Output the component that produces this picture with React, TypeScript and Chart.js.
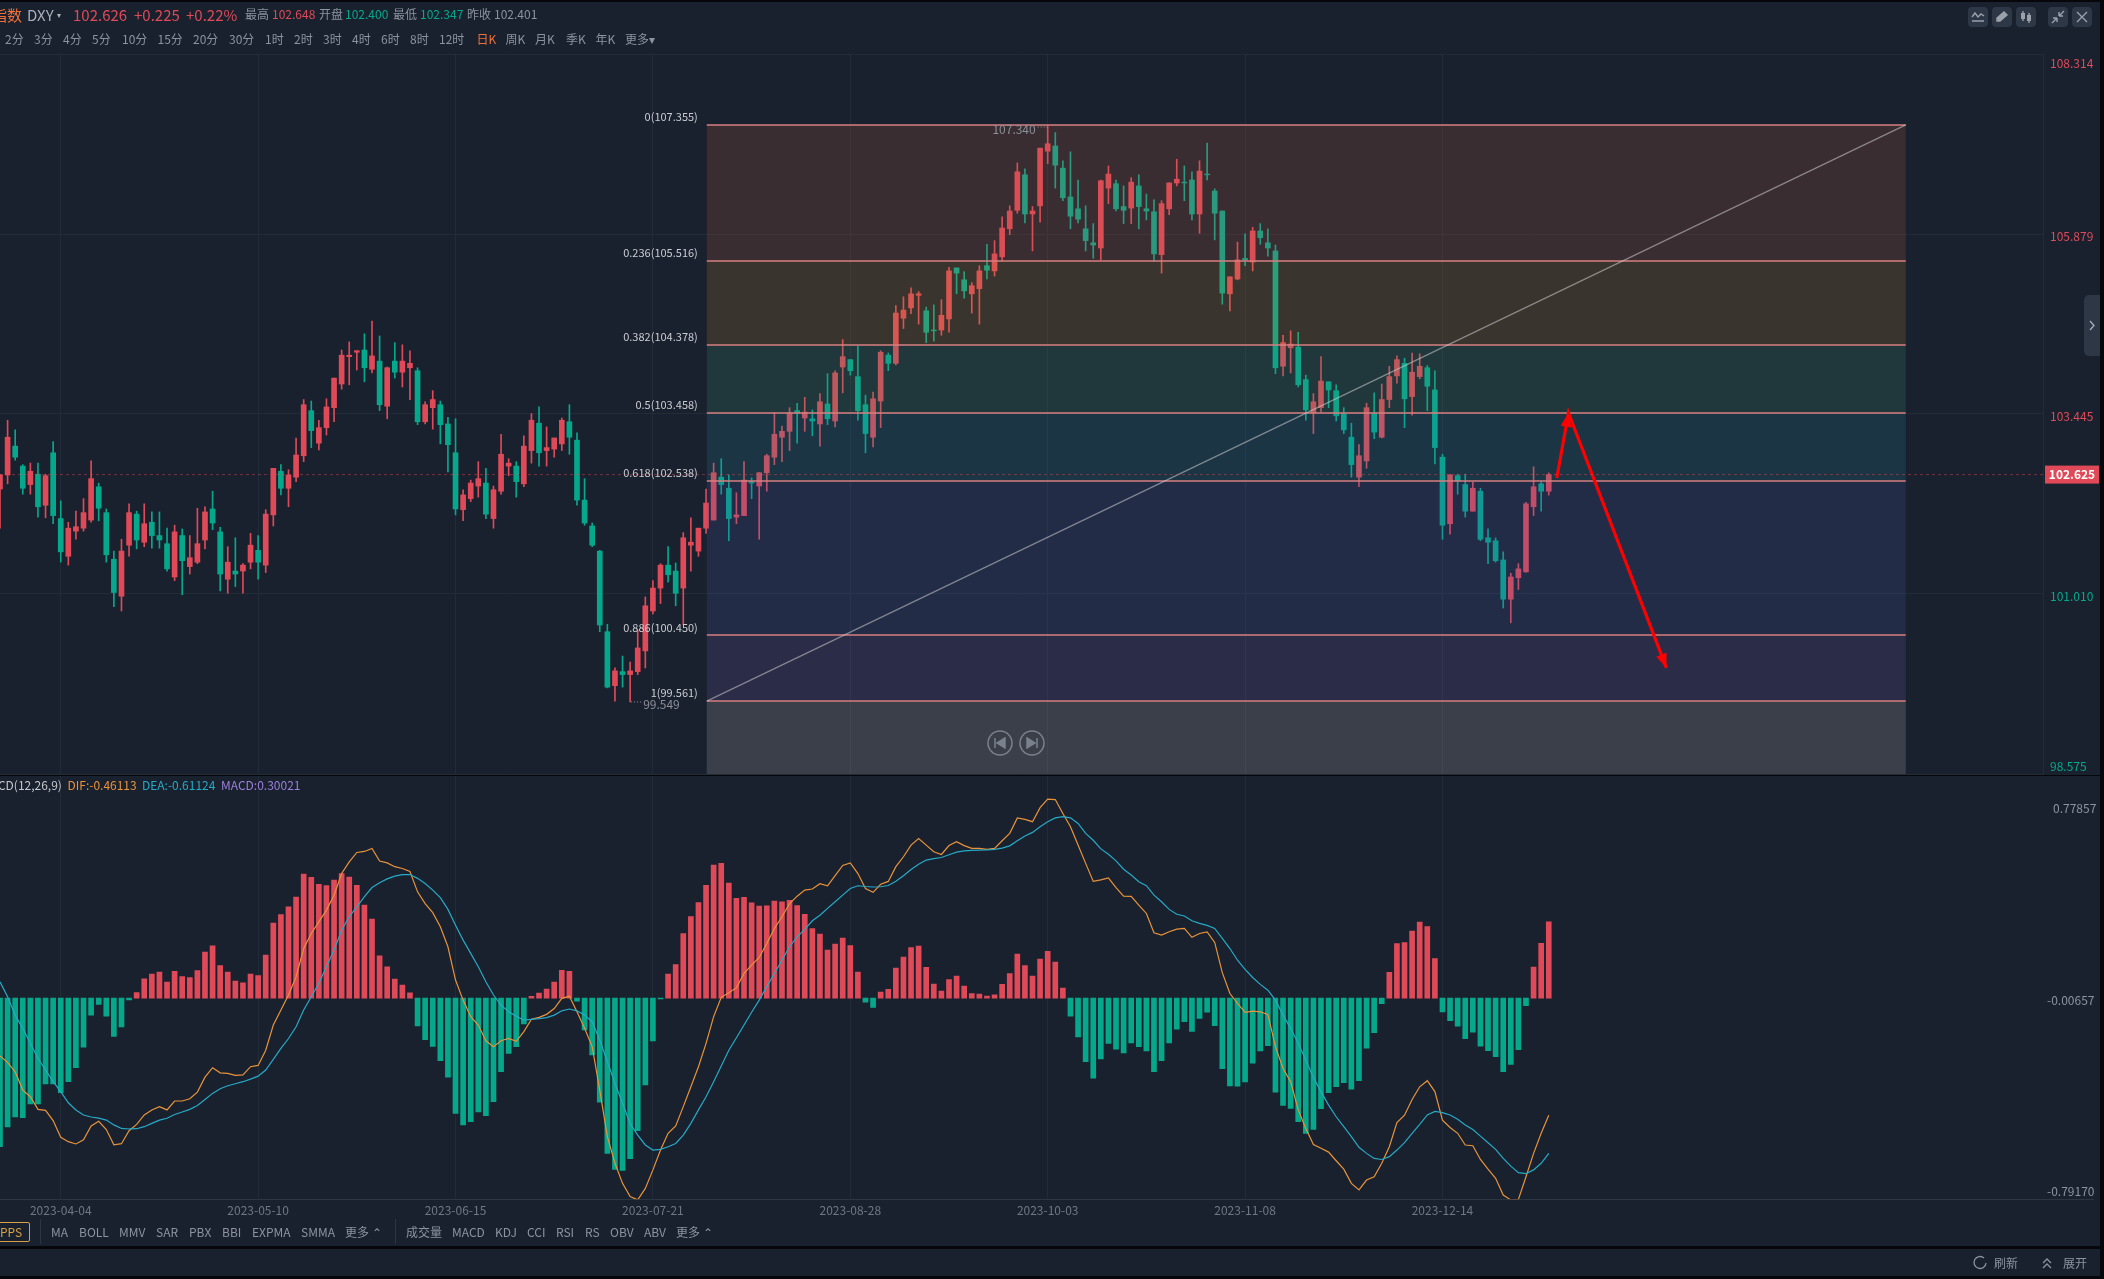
import React, { useEffect, useRef } from "react";
import { Chart, registerables } from "chart.js";

Chart.register(...registerables);

// daily DXY candles, ten per row
const opens = [
  102.43,102.62,103.01,102.74,102.49,102.63,102.21,102.92,102.03,101.52,
  101.86,101.90,102.01,102.46,102.11,101.48,100.98,101.67,102.09,101.71,
  101.98,101.80,101.69,101.24,101.80,101.38,101.44,101.74,102.16,101.85,
  101.21,101.32,101.32,101.44,101.60,101.40,102.08,102.67,102.44,102.59,
  102.88,103.49,103.05,103.26,103.53,103.85,104.22,104.28,104.31,104.05,
  104.16,103.55,104.16,104.01,104.07,104.03,103.34,103.53,103.57,103.31,
  102.92,102.15,102.30,102.47,102.51,102.03,102.40,102.74,102.74,102.50,
  102.95,103.32,102.95,102.97,103.04,103.34,103.09,102.28,101.93,101.59,
  100.50,99.77,99.96,99.92,99.96,100.24,100.78,101.09,101.40,101.32,
  101.09,101.67,101.59,101.90,102.01,102.59,102.44,102.05,102.07,102.53,
  102.47,102.65,102.86,103.13,103.21,103.49,103.39,103.38,103.31,103.58,
  103.35,104.08,104.18,103.95,103.57,103.13,103.62,104.24,104.13,104.74,
  104.88,105.05,104.84,104.58,104.58,104.73,105.42,105.26,105.07,105.14,
  105.45,105.38,105.57,105.95,106.20,106.68,106.15,106.26,107.00,107.07,
  106.77,106.38,106.22,105.95,105.76,105.69,106.50,106.56,106.25,106.23,
  106.53,106.22,106.18,105.60,106.22,106.57,106.58,106.61,106.15,106.69,
  106.46,106.19,105.07,105.27,105.55,105.50,105.92,105.76,105.65,104.09,
  104.34,104.35,103.91,103.46,103.53,103.88,103.76,103.45,103.13,102.59,
  102.81,103.45,103.13,103.64,103.96,104.13,103.68,103.95,104.07,103.77,
  102.86,101.96,102.61,102.49,102.13,102.40,101.77,101.73,101.47,100.94,
  101.23,101.31,102.19,102.50,102.40,
];
const closes = [
  102.62,103.13,102.86,102.44,102.67,102.19,102.61,102.07,101.58,101.90,
  101.92,102.11,102.57,102.17,101.54,101.03,101.59,102.11,101.74,101.96,
  101.80,101.74,101.35,101.85,101.46,101.50,101.69,102.12,101.97,101.28,
  101.44,101.28,101.40,101.67,101.44,102.09,102.71,102.44,102.62,102.89,
  103.57,103.22,103.26,103.54,103.93,104.24,104.24,104.30,104.07,104.23,
  103.57,104.07,104.01,104.16,104.13,103.34,103.57,103.64,103.30,103.03,
  102.16,102.35,102.51,102.57,102.09,102.42,102.90,102.78,102.53,103.01,
  103.36,102.92,102.99,103.12,103.36,103.13,102.28,101.97,101.67,100.59,
  99.75,99.97,99.92,99.97,100.28,100.85,101.09,101.40,101.27,101.02,
  101.77,101.71,101.90,102.24,102.65,102.49,102.03,102.08,102.55,102.51,
  102.65,102.88,103.17,103.21,103.46,103.46,103.47,103.35,103.61,103.38,
  104.00,104.22,104.03,103.49,103.18,103.65,104.28,104.13,104.81,104.85,
  105.07,105.07,104.55,104.57,104.78,105.38,105.35,105.11,105.18,105.38,
  105.39,105.61,105.96,106.19,106.72,106.15,106.19,107.04,107.10,106.81,
  106.37,106.12,106.08,105.79,105.73,106.60,106.69,106.22,106.20,106.58,
  106.25,106.19,105.61,106.29,106.57,106.62,106.57,106.15,106.73,106.68,
  106.16,105.08,105.30,105.53,105.53,105.92,105.83,105.69,104.07,104.41,
  104.39,103.84,103.50,103.61,103.89,103.77,103.42,103.23,102.76,102.88,
  103.53,103.20,103.64,103.95,104.18,103.65,104.01,104.09,103.82,102.99,
  101.94,102.62,102.54,102.13,102.44,101.75,101.71,101.46,100.94,101.24,
  101.35,102.23,102.46,102.40,102.626,
];
const highs = [
  102.63,103.36,103.23,102.76,102.78,102.78,102.63,103.07,102.27,101.98,
  102.13,102.30,102.81,102.51,102.16,101.59,101.75,102.23,102.13,102.23,
  102.12,102.12,101.90,101.94,101.89,101.80,102.17,102.19,102.40,101.91,
  101.65,101.77,101.42,101.83,101.80,102.15,102.71,102.76,102.69,103.12,
  103.64,103.62,103.36,103.65,103.93,104.31,104.42,104.30,104.53,104.70,
  104.50,104.08,104.41,104.38,104.30,104.07,103.61,103.76,103.62,103.40,
  103.38,102.42,102.55,102.80,102.71,102.47,103.17,102.84,102.80,103.15,
  103.45,103.54,103.27,103.12,103.39,103.57,103.19,102.57,101.97,101.60,
  100.60,100.01,100.17,100.09,100.52,100.97,101.19,101.42,101.65,101.43,
  101.84,102.04,101.90,102.43,102.78,102.84,102.62,102.38,102.80,102.58,
  102.65,102.90,103.46,103.28,103.53,103.59,103.67,103.50,103.72,103.99,
  104.03,104.45,104.18,104.36,103.70,103.74,104.30,104.27,104.91,105.03,
  105.15,105.10,104.89,104.92,104.99,105.43,105.42,105.37,105.22,105.45,
  105.74,105.79,106.11,106.26,106.84,106.76,106.25,107.04,107.34,107.25,
  106.87,106.99,106.61,106.26,106.02,106.61,106.80,106.61,106.53,106.64,
  106.68,106.42,106.34,106.33,106.57,106.89,106.80,106.72,106.87,107.11,
  106.49,106.19,105.30,105.77,105.88,105.97,106.02,105.95,105.73,104.51,
  104.57,104.55,103.97,103.72,104.22,103.88,103.84,103.53,103.32,103.03,
  103.59,103.73,103.85,104.09,104.23,104.20,104.27,104.26,104.10,104.03,
  102.90,102.63,102.63,102.63,102.52,102.44,101.89,101.77,101.58,101.29,
  101.42,102.25,102.73,102.53,102.648,
];
const lows = [
  101.90,102.50,102.82,102.36,102.36,102.05,102.04,101.96,101.44,101.40,
  101.75,101.86,101.98,102.00,101.44,100.84,100.78,101.52,101.62,101.65,
  101.63,101.63,101.32,101.19,101.00,101.28,101.42,101.62,101.88,101.05,
  101.02,101.11,101.02,101.35,101.21,101.30,101.93,102.35,102.19,102.53,
  102.80,102.99,102.96,103.16,103.34,103.78,103.84,104.04,103.88,104.00,
  103.49,103.38,103.93,103.81,103.64,103.30,103.31,103.24,103.04,102.66,
  102.08,102.00,102.26,102.32,102.03,101.90,102.36,102.61,102.32,102.46,
  102.78,102.74,102.74,102.86,102.95,102.90,102.21,101.94,101.65,100.50,
  99.74,99.56,99.75,99.55,99.92,100.01,100.74,100.88,101.17,100.85,
  100.59,101.32,101.52,101.83,102.01,102.36,101.73,101.96,102.07,102.30,
  101.75,102.40,102.76,102.80,102.95,103.05,103.21,103.15,103.01,103.30,
  103.27,103.73,103.97,103.36,102.92,103.00,103.26,104.03,104.11,104.60,
  104.80,104.66,104.41,104.43,104.51,104.55,105.07,105.01,104.81,104.66,
  105.27,105.31,105.51,105.87,106.16,106.03,105.65,106.04,106.83,106.50,
  106.33,105.95,106.03,105.65,105.55,105.53,106.29,106.19,106.02,106.02,
  105.95,106.07,105.51,105.35,106.14,106.53,106.33,106.07,105.89,106.61,
  105.80,104.93,104.84,105.26,105.45,105.38,105.74,105.58,103.99,103.96,
  104.00,103.81,103.36,103.18,103.47,103.53,103.35,103.18,102.59,102.46,
  102.71,103.11,103.12,103.53,103.86,103.26,103.43,103.92,103.49,102.77,
  101.75,101.82,102.36,102.05,102.13,101.73,101.42,101.44,100.82,100.62,
  101.07,101.30,102.07,102.13,102.347,
];

// MACD pane
const histogram = [
  -0.585,-0.507,-0.468,-0.471,-0.416,-0.416,-0.338,-0.338,-0.372,-0.329,
  -0.274,-0.193,-0.067,-0.025,-0.071,-0.151,-0.113,-0.007,0.022,0.076,
  0.094,0.102,0.063,0.105,0.085,0.081,0.108,0.181,0.206,0.128,
  0.102,0.067,0.060,0.094,0.089,0.169,0.295,0.329,0.359,0.397,
  0.488,0.475,0.448,0.443,0.464,0.490,0.476,0.444,0.366,0.311,
  0.166,0.123,0.075,0.051,0.021,-0.110,-0.164,-0.190,-0.246,-0.311,
  -0.454,-0.499,-0.486,-0.448,-0.463,-0.408,-0.290,-0.218,-0.191,-0.102,
  0.007,0.020,0.035,0.063,0.109,0.105,-0.012,-0.125,-0.224,-0.410,
  -0.611,-0.674,-0.678,-0.632,-0.522,-0.342,-0.169,-0.003,0.094,0.132,
  0.254,0.321,0.376,0.444,0.523,0.530,0.452,0.392,0.396,0.375,
  0.362,0.363,0.382,0.379,0.385,0.364,0.330,0.273,0.252,0.189,
  0.212,0.236,0.207,0.102,-0.016,-0.037,0.024,0.034,0.118,0.161,
  0.199,0.205,0.121,0.055,0.028,0.073,0.087,0.047,0.018,0.016,
  0.008,0.013,0.054,0.096,0.173,0.128,0.087,0.153,0.184,0.142,
  0.039,-0.071,-0.153,-0.250,-0.315,-0.239,-0.178,-0.201,-0.216,-0.176,
  -0.191,-0.208,-0.290,-0.246,-0.176,-0.122,-0.093,-0.131,-0.080,-0.055,
  -0.109,-0.278,-0.346,-0.347,-0.330,-0.256,-0.208,-0.187,-0.370,-0.422,
  -0.434,-0.486,-0.532,-0.517,-0.435,-0.372,-0.349,-0.333,-0.358,-0.325,
  -0.197,-0.136,-0.022,0.101,0.214,0.218,0.264,0.299,0.281,0.155,
  -0.054,-0.089,-0.111,-0.160,-0.134,-0.189,-0.207,-0.231,-0.290,-0.261,
  -0.203,-0.030,0.122,0.215,0.30021,
];
const dif = [
  -0.228,-0.253,-0.290,-0.362,-0.388,-0.438,-0.442,-0.482,-0.548,-0.565,
  -0.574,-0.558,-0.503,-0.485,-0.517,-0.577,-0.573,-0.522,-0.497,-0.460,
  -0.440,-0.427,-0.440,-0.405,-0.405,-0.396,-0.370,-0.311,-0.274,-0.294,
  -0.296,-0.304,-0.302,-0.270,-0.265,-0.205,-0.106,-0.047,0.012,0.084,
  0.195,0.254,0.300,0.346,0.405,0.490,0.536,0.573,0.577,0.589,
  0.539,0.532,0.517,0.510,0.498,0.418,0.372,0.336,0.281,0.202,
  0.071,-0.008,-0.073,-0.106,-0.168,-0.191,-0.168,-0.159,-0.170,-0.132,
  -0.083,-0.076,-0.064,-0.041,-0.001,0.007,-0.054,-0.119,-0.191,-0.362,
  -0.545,-0.650,-0.729,-0.781,-0.794,-0.749,-0.676,-0.598,-0.532,-0.503,
  -0.427,-0.349,-0.270,-0.178,-0.073,0.003,0.021,0.041,0.097,0.130,
  0.160,0.215,0.274,0.320,0.372,0.401,0.425,0.429,0.450,0.442,
  0.482,0.522,0.532,0.490,0.431,0.416,0.448,0.459,0.517,0.556,
  0.602,0.628,0.602,0.576,0.565,0.600,0.615,0.600,0.589,0.589,
  0.585,0.589,0.619,0.648,0.709,0.703,0.694,0.749,0.783,0.781,
  0.726,0.674,0.602,0.530,0.459,0.465,0.473,0.435,0.401,0.400,
  0.366,0.333,0.257,0.248,0.261,0.271,0.274,0.239,0.254,0.260,
  0.219,0.100,0.018,-0.021,-0.056,-0.051,-0.054,-0.064,-0.191,-0.277,
  -0.329,-0.440,-0.513,-0.576,-0.591,-0.606,-0.640,-0.673,-0.729,-0.755,
  -0.716,-0.703,-0.650,-0.585,-0.490,-0.461,-0.399,-0.349,-0.325,-0.368,
  -0.480,-0.509,-0.532,-0.578,-0.581,-0.635,-0.673,-0.709,-0.775,-0.794,
  -0.792,-0.703,-0.611,-0.532,-0.46113,
];
const dea = [
  0.064,0.005,-0.067,-0.119,-0.178,-0.237,-0.283,-0.329,-0.368,-0.412,
  -0.440,-0.460,-0.468,-0.472,-0.480,-0.499,-0.513,-0.515,-0.514,-0.506,
  -0.493,-0.480,-0.473,-0.458,-0.448,-0.438,-0.423,-0.399,-0.375,-0.357,
  -0.345,-0.337,-0.329,-0.319,-0.307,-0.283,-0.241,-0.198,-0.159,-0.113,
  -0.047,0.005,0.058,0.123,0.189,0.267,0.320,0.359,0.399,0.435,
  0.454,0.469,0.480,0.486,0.486,0.471,0.451,0.425,0.395,0.349,
  0.287,0.228,0.176,0.123,0.064,0.012,-0.028,-0.054,-0.071,-0.087,
  -0.084,-0.081,-0.077,-0.067,-0.050,-0.043,-0.050,-0.067,-0.093,-0.165,
  -0.250,-0.336,-0.414,-0.493,-0.539,-0.578,-0.598,-0.595,-0.585,-0.572,
  -0.539,-0.493,-0.440,-0.388,-0.329,-0.267,-0.205,-0.156,-0.106,-0.056,
  -0.008,0.045,0.097,0.149,0.202,0.241,0.270,0.304,0.326,0.353,
  0.379,0.405,0.431,0.442,0.439,0.437,0.438,0.443,0.460,0.481,
  0.506,0.527,0.543,0.549,0.553,0.564,0.574,0.579,0.581,0.582,
  0.583,0.585,0.590,0.599,0.619,0.638,0.652,0.674,0.694,0.709,
  0.714,0.709,0.687,0.648,0.621,0.587,0.566,0.540,0.507,0.484,
  0.458,0.442,0.405,0.379,0.349,0.330,0.323,0.304,0.294,0.286,
  0.274,0.235,0.195,0.149,0.113,0.081,0.054,0.031,-0.008,-0.067,
  -0.119,-0.178,-0.244,-0.313,-0.368,-0.421,-0.467,-0.506,-0.545,-0.587,
  -0.611,-0.631,-0.635,-0.624,-0.598,-0.569,-0.532,-0.497,-0.460,-0.446,
  -0.451,-0.460,-0.477,-0.499,-0.517,-0.543,-0.569,-0.595,-0.631,-0.661,
  -0.687,-0.691,-0.676,-0.650,-0.61124,
];

const dateTicks = [8, 34, 60, 86, 112, 138, 164, 190];
const dateLabels = ["2023-04-04", "2023-05-10", "2023-06-15", "2023-07-21", "2023-08-28", "2023-10-03", "2023-11-08", "2023-12-14"];
const priceTicks = [108.314, 105.879, 103.445, 101.01, 98.575];
const macdTicks = [0.77857, -0.00657, -0.7917];
const lastPrice = 102.625;

const fibLevels = ["0", "0.236", "0.382", "0.5", "0.618", "0.886", "1"];
const fibPrices = [107.355, 105.516, 104.378, 103.458, 102.538, 100.45, 99.561];
const fibFills = [
  "rgba(190,97,71,0.2)",
  "rgba(185,132,51,0.2)",
  "rgba(60,147,116,0.2)",
  "rgba(35,137,161,0.2)",
  "rgba(70,92,176,0.2)",
  "rgba(115,92,176,0.2)",
  "rgba(190,187,186,0.2)",
];
const fibFrom = 93.1;
const fibTo = 251.02;
const arrowX = [205.06, 206.6, 219.5];
const arrowPrice = [102.58, 103.46, 100.01];

const FONT = '"Noto Sans CJK SC", "Noto Sans", sans-serif';
const RED = "#e04a58";
const GREEN = "#06a88c";
const GRID = "#222b38";
const BG = "#1a212e";
const X_MAX = 269.1; // 2043px of plot at about 7.59px per bar
const BODY_DATASET = 1;

const candleColor = (i: number) => (closes[i] >= opens[i] ? RED : GREEN);
const money = (v: number) => v.toFixed(3);

const arrowHead = (ctx: CanvasRenderingContext2D, x0: number, y0: number, x1: number, y1: number, len: number, wide: number) => {
  const a = Math.atan2(y1 - y0, x1 - x0);
  ctx.beginPath();
  ctx.moveTo(x1, y1);
  ctx.lineTo(x1 - len * Math.cos(a) + wide * Math.sin(a), y1 - len * Math.sin(a) - wide * Math.cos(a));
  ctx.lineTo(x1 - len * Math.cos(a) - wide * Math.sin(a), y1 - len * Math.sin(a) + wide * Math.cos(a));
  ctx.closePath();
  ctx.fill();
};

const drawingsPlugin = {
  id: "drawings",
  // the fib bands sit over the candles but under the trend line and the arrows
  afterDatasetDraw(chart: any, args: any) {
    if (args.index !== BODY_DATASET) return;
    const { ctx, scales, chartArea } = chart;
    const left = scales.x.getPixelForValue(fibFrom);
    const right = scales.x.getPixelForValue(fibTo);
    ctx.save();
    fibPrices.forEach((price, i) => {
      const top = scales.y.getPixelForValue(price);
      const next = i < fibPrices.length - 1 ? scales.y.getPixelForValue(fibPrices[i + 1]) : chartArea.bottom;
      ctx.fillStyle = fibFills[i];
      ctx.fillRect(left, top, right - left, next - top);
    });
    ctx.strokeStyle = "#d97f80";
    ctx.lineWidth = 1.5;
    fibPrices.forEach((price) => {
      const y = Math.round(scales.y.getPixelForValue(price));
      ctx.beginPath();
      ctx.moveTo(left, y);
      ctx.lineTo(right, y);
      ctx.stroke();
    });
    ctx.restore();
  },
  afterDatasetsDraw(chart: any) {
    const { ctx, scales, chartArea } = chart;
    const { x, y } = scales;
    ctx.save();

    // last price line and its tag
    const py = y.getPixelForValue(lastPrice);
    ctx.strokeStyle = "rgba(224,74,88,0.45)";
    ctx.lineWidth = 1;
    ctx.setLineDash([3, 3]);
    ctx.beginPath();
    ctx.moveTo(0, py);
    ctx.lineTo(chartArea.right + 2, py);
    ctx.stroke();
    ctx.setLineDash([]);
    ctx.fillStyle = RED;
    ctx.fillRect(chartArea.right + 2, py - 9, 54, 18);
    ctx.fillStyle = "#fff";
    ctx.font = `bold 12px ${FONT}`;
    ctx.textAlign = "center";
    ctx.textBaseline = "middle";
    ctx.fillText(money(lastPrice), chartArea.right + 29, py);

    // fib labels
    ctx.font = `11px ${FONT}`;
    ctx.textAlign = "right";
    ctx.fillStyle = "#c9cdd2";
    fibPrices.forEach((price, i) => {
      ctx.fillText(`${fibLevels[i]}(${money(price)})`, x.getPixelForValue(fibFrom) - 9, y.getPixelForValue(price) - 8);
    });

    // arrow heads on the red path
    ctx.fillStyle = "#ff0000";
    const ax = arrowX.map((v) => x.getPixelForValue(v));
    const ay = arrowPrice.map((v) => y.getPixelForValue(v));
    arrowHead(ctx, ax[0], ay[0], ax[1], ay[1], 14, 5.5);
    arrowHead(ctx, ax[1], ay[1], ax[2], ay[2], 14, 5.5);

    // high and low marks
    ctx.font = `12px ${FONT}`;
    ctx.fillStyle = "#8b9099";
    ctx.strokeStyle = "#8b9099";
    ctx.setLineDash([1, 2]);
    const highAt = highs.indexOf(Math.max(...highs));
    const lowAt = lows.indexOf(Math.min(...lows));
    const hx = x.getPixelForValue(highAt);
    const hy = y.getPixelForValue(highs[highAt]);
    ctx.beginPath();
    ctx.moveTo(hx, hy + 1);
    ctx.lineTo(hx - 11, hy + 1);
    ctx.stroke();
    ctx.textAlign = "right";
    ctx.fillText("107.340", hx - 12, hy + 3);
    const lx = x.getPixelForValue(lowAt);
    const ly = y.getPixelForValue(lows[lowAt]);
    ctx.beginPath();
    ctx.moveTo(lx + 1, ly);
    ctx.lineTo(lx + 12, ly);
    ctx.stroke();
    ctx.textAlign = "left";
    ctx.fillText("99.549", lx + 13, ly + 3);
    ctx.setLineDash([]);
    ctx.restore();
  },
};

const sharedX = (extra: any) => ({
  type: "linear",
  min: 0,
  max: X_MAX,
  offset: false,
  grid: { color: GRID, offset: false, drawTicks: false },
  afterBuildTicks: (axis: any) => {
    axis.ticks = dateTicks.map((value) => ({ value }));
  },
  ...extra,
});

const stackedLabel = (value: number, list: number[], text: string) => {
  // push the first and last labels inside the pane, as the terminal does
  if (value === list[0]) return ["", text];
  if (value === list[list.length - 1]) return [text, ""];
  return text;
};

// the tall end labels must not shrink the plot
const fitYAxis = (s: any) => {
  s.width = 61;
  s.paddingTop = 0;
  s.paddingBottom = 0;
  s.paddingLeft = 0;
  s.paddingRight = 0;
};

function PriceChart() {
  const ref = useRef<HTMLCanvasElement | null>(null);
  useEffect(() => {
    if (!ref.current) return;
    const chart = new Chart(ref.current, {
      type: "bar",
      data: {
        datasets: [
          {
            label: "wick",
            data: opens.map((_, i) => ({ x: i, y: [lows[i], highs[i]] })),
            backgroundColor: opens.map((_, i) => candleColor(i)),
            barThickness: 1,
            grouped: false,
            order: 4,
          },
          {
            label: "DXY",
            data: opens.map((_, i) => ({ x: i, y: [opens[i], closes[i]] })),
            backgroundColor: opens.map((_, i) => candleColor(i)),
            barThickness: 5,
            grouped: false,
            order: 3,
          },
          {
            type: "line",
            label: "trend",
            data: [
              { x: fibFrom, y: fibPrices[fibPrices.length - 1] },
              { x: fibTo, y: fibPrices[0] },
            ],
            borderColor: "rgba(205,205,205,0.55)",
            borderWidth: 1.3,
            pointRadius: 0,
            order: 1,
          },
          {
            type: "line",
            label: "path",
            data: arrowX.map((x, i) => ({ x, y: arrowPrice[i] })),
            borderColor: "#ff0000",
            borderWidth: 3.2,
            pointRadius: 0,
            order: 0,
          },
        ],
      } as any,
      options: {
        responsive: false,
        maintainAspectRatio: false,
        animation: false,
        devicePixelRatio: 1,
        events: [],
        layout: { padding: { top: 54, bottom: 1 } },
        plugins: { legend: { display: false }, tooltip: { enabled: false } },
        scales: {
          x: sharedX({
            ticks: { display: false },
            border: { display: false },
            afterFit: (s: any) => {
              s.height = 0;
            },
          }),
          y: {
            position: "right",
            min: 98.575,
            max: 108.314,
            beginAtZero: false,
            grid: { color: GRID, drawTicks: false },
            border: { color: GRID },
            afterBuildTicks: (axis: any) => {
              axis.ticks = priceTicks.map((value) => ({ value }));
            },
            afterFit: fitYAxis,
            ticks: {
              crossAlign: "near",
              padding: 7,
              labelOffset: 2.5,
              font: (c: any) => ({ family: FONT, size: 12, lineHeight: c.tick && c.tick.value === 98.575 ? 1.7 : 1.2 }),
              color: (c: any) => (c.tick.value > lastPrice ? RED : GREEN),
              callback: (v: any) => stackedLabel(v, priceTicks, money(v)),
            },
          },
        },
      } as any,
      plugins: [drawingsPlugin],
    });
    return () => chart.destroy();
  }, []);
  return <canvas ref={ref} width={2104} height={775} style={{ position: "absolute", left: 0, top: 0 }} />;
}

function MacdChart() {
  const ref = useRef<HTMLCanvasElement | null>(null);
  useEffect(() => {
    if (!ref.current) return;
    const chart = new Chart(ref.current, {
      type: "bar",
      data: {
        datasets: [
          {
            type: "line",
            label: "DIF",
            data: dif.map((y, x) => ({ x, y })),
            borderColor: "#e8933a",
            borderWidth: 1.2,
            pointRadius: 0,
            order: 1,
          },
          {
            type: "line",
            label: "DEA",
            data: dea.map((y, x) => ({ x, y })),
            borderColor: "#27a9c6",
            borderWidth: 1.2,
            pointRadius: 0,
            order: 0,
          },
          {
            label: "MACD",
            data: histogram.map((y, x) => ({ x, y })),
            backgroundColor: histogram.map((v) => (v >= 0 ? RED : GREEN)),
            barThickness: 5,
            order: 2,
          },
        ],
      } as any,
      options: {
        responsive: false,
        maintainAspectRatio: false,
        animation: false,
        devicePixelRatio: 1,
        events: [],
        plugins: { legend: { display: false }, tooltip: { enabled: false } },
        scales: {
          x: sharedX({
            border: { color: "#2b3643" },
            afterFit: (s: any) => {
              s.height = 40.7;
            },
            ticks: {
              autoSkip: false,
              maxRotation: 0,
              padding: 4,
              color: "#6f7785",
              font: { family: FONT, size: 12 },
              callback: (v: any) => dateLabels[dateTicks.indexOf(v)],
            },
          }),
          y: {
            position: "right",
            min: -0.7917,
            max: 0.8738,
            beginAtZero: false,
            grid: { display: false, drawTicks: false },
            border: { display: false },
            afterBuildTicks: (axis: any) => {
              axis.ticks = macdTicks.map((value) => ({ value }));
            },
            afterFit: fitYAxis,
            ticks: {
              crossAlign: "near",
              padding: 4,
              labelOffset: 1,
              color: "#8c93a0",
              font: (c: any) => ({ family: FONT, size: 12, lineHeight: c.tick && c.tick.value === -0.7917 ? 1.45 : 1.2 }),
              // positive label is one sign shorter, keep the right edges level
              callback: (v: any) => stackedLabel(v, macdTicks, (v > 0 ? "\u2002" : "") + v.toFixed(5)),
            },
          },
        },
      } as any,
    });
    return () => chart.destroy();
  }, []);
  return <canvas ref={ref} width={2104} height={464} style={{ position: "absolute", left: 0, top: 776 }} />;
}

const Txt = ({ x, y, c = "#8c93a0", s = 12, children }: any) => (
  <span
    style={{
      position: "absolute",
      left: x,
      top: y,
      transform: "translateY(-50%)",
      color: c,
      fontSize: s,
      fontFamily: FONT,
      lineHeight: 1,
      whiteSpace: "nowrap",
    }}
  >
    {children}
  </span>
);

const periods: [string, number][] = [
  ["2分", 5], ["3分", 34], ["4分", 63], ["5分", 92], ["10分", 122], ["15分", 157.5], ["20分", 193], ["30分", 229],
  ["1时", 265], ["2时", 294], ["3时", 323], ["4时", 352], ["6时", 381], ["8时", 410], ["12时", 439],
  ["周K", 505.5], ["月K", 535], ["季K", 566], ["年K", 595.5], ["更多▾", 625],
];
const mainIndicators: [string, number][] = [
  ["MA", 51], ["BOLL", 79], ["MMV", 119], ["SAR", 156], ["PBX", 189], ["BBI", 222], ["EXPMA", 252], ["SMMA", 301], ["更多 ⌃", 345],
];
const subIndicators: [string, number][] = [
  ["成交量", 406], ["MACD", 452], ["KDJ", 495], ["CCI", 527], ["RSI", 556], ["RS", 585], ["OBV", 610], ["ABV", 644], ["更多 ⌃", 676],
];

const IconButton = ({ x, children }: any) => (
  <svg
    width={20}
    height={20}
    viewBox="0 0 20 20"
    style={{ position: "absolute", left: x, top: 7, background: "#2d3746", borderRadius: 4 }}
    fill="none"
    stroke="#9aa1ab"
    strokeWidth={1.4}
  >
    {children}
  </svg>
);

const Block = ({ l, t, w, h, c }: any) => (
  <div style={{ position: "absolute", left: l, top: t, width: w, height: h, background: c }} />
);

export default function App() {
  return (
    <div style={{ position: "absolute", left: 0, top: 0, width: 2104, height: 1279, background: "#05070b", overflow: "hidden" }}>
      <Block l={0} t={2} w={2100} h={1244} c={BG} />
      <Block l={0} t={1249} w={2100} h={27} c={BG} />
      <PriceChart />
      <Block l={0} t={774.5} w={2100} h={1.5} c="#05070b" />
      <MacdChart />
      <Block l={2043} t={1199} w={51} h={1} c="#2b3643" />

      <Txt x={-8} y={14} c="#f0703a" s={15}>指数</Txt>
      <Txt x={27} y={14} c="#aab0b9" s={15}>DXY</Txt>
      <Txt x={57} y={15} c="#aab0b9" s={8}>▾</Txt>
      <Txt x={73} y={14} c={RED} s={15}>102.626</Txt>
      <Txt x={134} y={14} c={RED} s={15}>+0.225</Txt>
      <Txt x={186} y={14} c={RED} s={15}>+0.22%</Txt>
      <Txt x={245} y={14}>最高</Txt>
      <Txt x={272} y={14} c={RED}>102.648</Txt>
      <Txt x={319} y={14}>开盘</Txt>
      <Txt x={345} y={14} c={GREEN}>102.400</Txt>
      <Txt x={393} y={14}>最低</Txt>
      <Txt x={420} y={14} c={GREEN}>102.347</Txt>
      <Txt x={467} y={14}>昨收</Txt>
      <Txt x={494} y={14}>102.401</Txt>

      {periods.map(([t, x]) => (
        <Txt key={t} x={x} y={39}>{t}</Txt>
      ))}
      <Txt x={476.6} y={39} c="#f0703a">日K</Txt>

      <IconButton x={1968}>
        <path d="M4 10 L7 6 L10 10 L13 7 L16 9 M4 14 H16" />
      </IconButton>
      <IconButton x={1992}>
        <path d="M5 14 L5 11 L12 5 L15 8 L8 14 Z" fill="#9aa1ab" />
      </IconButton>
      <IconButton x={2016}>
        <path d="M7 4 V14 M13 6 V16" />
        <rect x={5} y={6} width={4} height={6} fill="#9aa1ab" stroke="none" />
        <rect x={11} y={8} width={4} height={6} fill="#9aa1ab" stroke="none" />
      </IconButton>
      <IconButton x={2048}>
        <path d="M4 16 L9 11 M9 11 V15 M9 11 H5 M16 4 L11 9 M11 9 V5 M11 9 H15" />
      </IconButton>
      <IconButton x={2072}>
        <path d="M5 5 L15 15 M15 5 L5 15" />
      </IconButton>

      <div style={{ position: "absolute", left: 2084, top: 295, width: 16, height: 61, background: "#2d3746", borderRadius: "5px 0 0 5px" }} />
      <svg width={16} height={61} style={{ position: "absolute", left: 2084, top: 295 }} fill="none" stroke="#aab0b9" strokeWidth={1.3}>
        <path d="M6 26 L10 30.5 L6 35" />
      </svg>

      <svg width={72} height={30} style={{ position: "absolute", left: 984, top: 728 }} fill="none" stroke="#7b818c" strokeWidth={1.5}>
        <circle cx={16} cy={15} r={12} />
        <circle cx={48} cy={15} r={12} />
        <path d="M11 10 V20 M21 10 L13 15 L21 20 Z M53 10 V20 M43 10 L51 15 L43 20 Z" fill="#7b818c" />
      </svg>

      <Txt x={-19} y={785} c="#c4c8cd">MACD(12,26,9)</Txt>
      <Txt x={67.5} y={785} c="#e8933a">DIF:-0.46113</Txt>
      <Txt x={142} y={785} c="#27a9c6">DEA:-0.61124</Txt>
      <Txt x={221} y={785} c="#9b7fdc">MACD:0.30021</Txt>

      <div style={{ position: "absolute", left: -2, top: 1222, width: 32, height: 20, border: "1px solid #d7a044", borderRadius: 2, boxSizing: "border-box" }} />
      <Txt x={0} y={1232} c="#d7a044">PPS</Txt>
      <Block l={40} t={1219} w={1} h={25} c="#2b3643" />
      <Block l={395} t={1219} w={1} h={25} c="#2b3643" />
      {mainIndicators.map(([t, x]) => (
        <Txt key={t} x={x} y={1232}>{t}</Txt>
      ))}
      {subIndicators.map(([t, x]) => (
        <Txt key={t} x={x} y={1232}>{t}</Txt>
      ))}

      <svg width={16} height={16} style={{ position: "absolute", left: 1972, top: 1255 }} fill="none" stroke="#8c93a0" strokeWidth={1.3}>
        <path d="M12 3 A6 6 0 1 0 14 8" />
      </svg>
      <Txt x={1994} y={1263}>刷新</Txt>
      <svg width={12} height={14} style={{ position: "absolute", left: 2041, top: 1256 }} fill="none" stroke="#8c93a0" strokeWidth={1.3}>
        <path d="M2 7 L6 3 L10 7 M2 12 L6 8 L10 12" />
      </svg>
      <Txt x={2063} y={1263}>展开</Txt>
    </div>
  );
}
